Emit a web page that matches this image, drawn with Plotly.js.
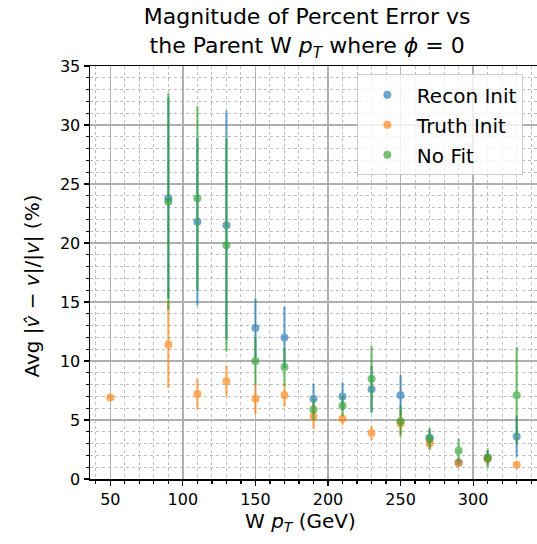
<!DOCTYPE html>
<html>
<head>
<meta charset="utf-8">
<script src="https://cdn.plot.ly/plotly-3.0.1.min.js"></script>
<style>
  html, body { margin: 0; padding: 0; background: #fff; }
  #chart { width: 537px; height: 544px; }
</style>
</head>
<body>
<div id="chart"></div>
<script>
// W pT bin centres (GeV)
const ptBins = [90, 110, 130, 150, 170, 190, 210, 230, 250, 270, 290, 310, 330];
const ptBinsTruth = [50, 90, 110, 130, 150, 170, 190, 210, 230, 250, 270, 290, 310, 330];

// Average |v_hat - v| / |v| in percent, with spread
const reconInit    = [23.8, 21.8, 21.5, 12.8, 12.0, 6.8, 7.0, 7.6, 7.1, 3.5, 1.4, 1.8, 3.6];
const reconInitErr = [8.5, 7.1, 9.7, 2.5, 2.6, 1.3, 1.2, 2.0, 1.7, 0.7, 0.3, 0.6, 1.7];

const truthInit    = [6.9, 11.4, 7.2, 8.3, 6.8, 7.1, 5.3, 5.1, 3.9, 4.7, 3.0, 1.35, 1.7, 1.2];
const truthInitErr = [0.2, 3.7, 1.3, 1.3, 1.3, 1.0, 1.0, 0.5, 0.6, 0.9, 0.5, 0.3, 0.4, 0.2];

const noFit    = [23.5, 23.8, 19.8, 10.0, 9.5, 5.9, 6.2, 8.5, 4.9, 3.4, 2.4, 1.8, 7.1];
const noFitErr = [9.2, 7.8, 9.0, 2.0, 1.6, 0.9, 0.9, 2.8, 1.3, 0.9, 1.0, 0.8, 4.1];

const seriesNames = ['Recon Init', 'Truth Init', 'No Fit'];
const colors = ['#1f77b4', '#ff7f0e', '#2ca02c'];

const titleText = 'Magnitude of Percent Error vs<br>the Parent W <i>p</i><sub><i>T</i></sub> where <i>ϕ</i> = 0';
const xLabel = 'W <i>p</i><sub><i>T</i></sub> (GeV)';
const yLabel = 'Avg |<i>v̂</i> − <i>v</i>|/|<i>v</i>| (%)';

function errTrace(x, y, err, name, color, group) {
  return {
    type: 'scatter', mode: 'markers', name: name, legendgroup: group,
    x: x, y: y,
    opacity: 0.65,
    marker: { color: color, size: 8, line: { width: 0 } },
    error_y: { type: 'data', array: err, visible: true, color: color, thickness: 2.2, width: 0 }
  };
}

const traces = [
  errTrace(ptBins, reconInit, reconInitErr, seriesNames[0], colors[0], 'g1'),
  errTrace(ptBinsTruth, truthInit, truthInitErr, seriesNames[1], colors[1], 'g2'),
  errTrace(ptBins, noFit, noFitErr, seriesNames[2], colors[2], 'g3')
];

const font = 'DejaVu Sans, sans-serif';

const layout = {
  width: 537, height: 544,
  margin: { l: 90, r: 0, t: 66, b: 65 },
  paper_bgcolor: '#ffffff', plot_bgcolor: '#ffffff',
  font: { family: font, size: 16, color: '#000000' },
  showlegend: true,
  title: {
    text: titleText,
    x: 0.572, xref: 'container', xanchor: 'center',
    y: 0.955, yref: 'container', yanchor: 'top',
    font: { family: font, size: 22, color: '#000000' }
  },
  xaxis: {
    range: [36, 344],
    tickmode: 'linear', tick0: 50, dtick: 50,
    ticks: 'outside', ticklen: 5, tickwidth: 1.2, tickcolor: '#000',
    showline: true, linecolor: '#000', linewidth: 1.5, mirror: true,
    showgrid: true, gridcolor: '#b0b0b0', gridwidth: 1.5,
    zeroline: false,
    tickfont: { size: 16 },
    minor: { dtick: 10, ticks: 'outside', ticklen: 3, tickcolor: '#000', showgrid: true, gridcolor: '#bdbdbd', griddash: 'dot', gridwidth: 1 }
  },
  yaxis: {
    range: [0, 35],
    tickmode: 'linear', tick0: 0, dtick: 5,
    ticks: 'outside', ticklen: 5, tickwidth: 1.2, tickcolor: '#000',
    showline: true, linecolor: '#000', linewidth: 1.5, mirror: false,
    showgrid: true, gridcolor: '#b0b0b0', gridwidth: 1.5,
    zeroline: false,
    tickfont: { size: 16 },
    minor: { dtick: 1, ticks: 'outside', ticklen: 3, tickcolor: '#000', showgrid: true, gridcolor: '#bdbdbd', griddash: 'dot', gridwidth: 1 }
  },
  annotations: [
    { text: xLabel, xref: 'paper', yref: 'paper', x: 0.472, y: -0.104, xanchor: 'center', yanchor: 'middle',
      showarrow: false, font: { family: font, size: 20, color: '#000' } },
    { text: yLabel, xref: 'paper', yref: 'paper', x: -0.13, y: 0.468, xanchor: 'center', yanchor: 'middle',
      textangle: -90, showarrow: false, font: { family: font, size: 20, color: '#000' } }
  ],
  legend: {
    x: 0.597, xanchor: 'left', y: 0.98, yanchor: 'top',
    bgcolor: 'rgba(255,255,255,0.8)', bordercolor: '#cccccc', borderwidth: 1,
    font: { family: font, size: 20, color: '#000' },
    itemwidth: 49, tracegroupgap: 1
  }
};

Plotly.newPlot('chart', traces, layout, { displayModeBar: false, staticPlot: true });
</script>
</body>
</html>
